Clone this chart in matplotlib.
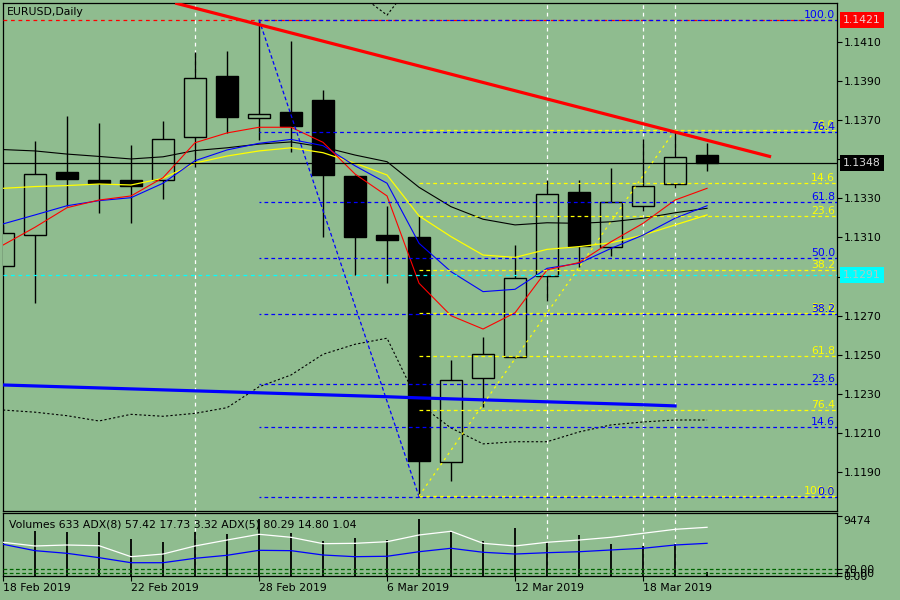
import matplotlib
matplotlib.use('Agg')
import matplotlib.pyplot as plt
from matplotlib.patches import Rectangle
import matplotlib.transforms as mtransforms

BG = '#8FBC8F'
FS = 7.8
plt.rcParams['font.family'] = ['DejaVu Sans']

dates = ['18 Feb 2019', '19 Feb 2019', '20 Feb 2019', '21 Feb 2019', '22 Feb 2019',
         '25 Feb 2019', '26 Feb 2019', '27 Feb 2019', '28 Feb 2019', '1 Mar 2019',
         '4 Mar 2019', '5 Mar 2019', '6 Mar 2019', '7 Mar 2019', '8 Mar 2019',
         '11 Mar 2019', '12 Mar 2019', '13 Mar 2019', '14 Mar 2019', '15 Mar 2019',
         '18 Mar 2019', '19 Mar 2019', '20 Mar 2019']
label_idx = [0, 4, 8, 12, 16, 20]
vline_idx = [6, 17, 20, 21]

opens = [1.12954, 1.13111, 1.13434, 1.13392, 1.13393, 1.13392, 1.13613, 1.13925, 1.13709, 1.13741,
         1.13802, 1.13414, 1.13112, 1.13104, 1.11953, 1.12382, 1.12491, 1.12903, 1.13332, 1.13051,
         1.13261, 1.13373, 1.13521]
highs = [1.13164, 1.13593, 1.13720, 1.13685, 1.13572, 1.13695, 1.14047, 1.14052, 1.14213, 1.14104,
         1.13853, 1.13419, 1.13261, 1.13210, 1.12474, 1.12591, 1.13061, 1.13393, 1.13393, 1.13455,
         1.13603, 1.13639, 1.13584]
lows = [1.12908, 1.12767, 1.13262, 1.13223, 1.13172, 1.13298, 1.13461, 1.13632, 1.13598, 1.13538,
        1.13102, 1.12908, 1.12867, 1.11775, 1.11857, 1.12234, 1.12485, 1.12777, 1.12950, 1.13007,
        1.13235, 1.13353, 1.13439]
closes = [1.13121, 1.13424, 1.13400, 1.13378, 1.13361, 1.13603, 1.13915, 1.13717, 1.13729, 1.13671,
          1.13421, 1.13102, 1.13087, 1.11959, 1.12372, 1.12504, 1.12893, 1.13322, 1.13058, 1.13281,
          1.13363, 1.13511, 1.13479]
volumes = [7000, 7070, 6865, 6960, 5813, 5341, 6960, 6598, 8908, 6755, 5546, 6017, 5609, 8955,
           7117, 5499, 7541, 5294, 6441, 5074, 4760, 4980, 633]

ma_red = [1.13061, 1.13152, 1.13252, 1.13291, 1.13312, 1.13405, 1.13584, 1.13634, 1.13663, 1.13663,
          1.13586, 1.13424, 1.13312, 1.12866, 1.12700, 1.12632, 1.12715, 1.12934, 1.12972, 1.13078,
          1.13172, 1.13291, 1.13351]
ma_blue = [1.13169, 1.13215, 1.13262, 1.13288, 1.13303, 1.13377, 1.13492, 1.13547, 1.13581, 1.13601,
           1.13569, 1.13466, 1.13377, 1.13070, 1.12925, 1.12823, 1.12835, 1.12942, 1.12968, 1.13044,
           1.13112, 1.13198, 1.13262]
ma_yellow = [1.13351, 1.13360, 1.13365, 1.13373, 1.13368, 1.13402, 1.13480, 1.13516, 1.13542, 1.13558,
             1.13533, 1.13479, 1.13419, 1.13210, 1.13104, 1.13010, 1.12998, 1.13039, 1.13053, 1.13073,
             1.13112, 1.13164, 1.13215]
ma_black = [1.13549, 1.13542, 1.13526, 1.13514, 1.13501, 1.13512, 1.13544, 1.13558, 1.13577, 1.13588,
            1.13562, 1.13521, 1.13487, 1.13356, 1.13257, 1.13193, 1.13164, 1.13175, 1.13172, 1.13180,
            1.13198, 1.13226, 1.13249]
ma_slow = [1.12346, 1.12341, 1.12336, 1.12331, 1.12326, 1.12321, 1.12316, 1.12311, 1.12306, 1.12301,
           1.12296, 1.12291, 1.12286, 1.12280, 1.12275, 1.12270, 1.12265, 1.12260, 1.12255, 1.12250,
           1.12245, 1.12239]
band_lower = [1.12218, 1.12207, 1.12189, 1.12162, 1.12196, 1.12186, 1.12201, 1.12230, 1.12337, 1.12397,
              1.12503, 1.12554, 1.12585, 1.12249, 1.12126, 1.12045, 1.12056, 1.12056, 1.12106, 1.12142,
              1.12157, 1.12167, 1.12167]
band_upper_idx = [11, 12, 13]
band_upper = [1.14359, 1.14236, 1.14446]

adx5 = [58.9, 53.6, 55.0, 54.0, 38.3, 42.1, 53.6, 62.1, 70.3, 66.0, 56.9, 57.4, 59.7, 69.3,
        74.6, 57.4, 53.6, 58.9, 62.1, 66.0, 71.7, 77.4, 80.29]
adx8 = [56.0, 46.9, 43.1, 36.9, 29.7, 29.7, 36.0, 40.3, 47.4, 46.9, 40.7, 38.3, 38.9, 45.4,
        50.3, 44.6, 42.1, 44.0, 45.4, 47.9, 50.3, 55.0, 57.42]
adx_levels = [20, 15]

fib_levels = [0.0, 14.6, 23.6, 38.2, 50.0, 61.8, 76.4, 100.0]
fib1 = dict(i_hi=8, hi=1.14213, i_lo=13, lo=1.11775)
fib2 = dict(i_lo=13, lo=1.11779, i_hi=21, hi=1.13649)
trend_red = dict(x=[5.38, 24.0], y=[1.14298, 1.13512])
high_line = 1.14213
cyan_line = 1.12907
price_ticks = [1.1190, 1.1210, 1.1230, 1.1250, 1.1270, 1.1290, 1.1310, 1.1330, 1.1350, 1.1370, 1.1390, 1.1410]
vol_max_label = 9474

n = len(closes)
xs = list(range(n))

fig = plt.figure(figsize=(9, 6), dpi=100, facecolor=BG)
W, H = 900, 600
ax = fig.add_axes([3 / W, (H - 511) / H, 834 / W, 508 / H], facecolor=BG)
axp = fig.add_axes([3 / W, (H - 576) / H, 834 / W, 62.7 / H], facecolor=BG)
XL = (0.0, 26.06)
ax.set_xlim(*XL)
ax.set_ylim(1.11702, 1.14298)
axp.set_xlim(*XL)
for a in (ax, axp):
    for s in a.spines.values():
        s.set_color('black')
        s.set_linewidth(0.9)

# candles
bw = 22 / 32
for i in xs:
    o, h, l, c = opens[i], highs[i], lows[i], closes[i]
    ax.vlines(i, l, h, color='black', lw=1.0, zorder=3)
    bear = c < o
    ax.add_patch(Rectangle((i - bw / 2, min(o, c)), bw, abs(c - o),
                           facecolor='black' if bear else BG, edgecolor='black',
                           lw=1.0, zorder=4))

# vertical user lines
for a in (ax, axp):
    for i in vline_idx:
        a.axvline(i, color='white', ls=(0, (3, 3)), lw=0.9, zorder=2)

# bands
ax.plot(xs, band_lower, color='black', ls=(0, (2, 2)), lw=0.8, zorder=5)
ax.plot(band_upper_idx, band_upper, color='black', ls=(0, (2, 2)), lw=0.8, zorder=5)

# slow MA
ax.plot(xs[:len(ma_slow)], ma_slow, color='#0000FF', lw=2.3, zorder=5)

# MAs
ax.plot(xs, ma_black, color='black', lw=0.8, zorder=6)
ax.plot(xs, ma_yellow, color='#FFFF00', lw=0.9, zorder=6)
ax.plot(xs, ma_blue, color='#0000FF', lw=0.8, zorder=6)
ax.plot(xs, ma_red, color='#FF0000', lw=0.8, zorder=6)

# horizontal lines
ax.axhline(high_line, color='#FF0000', ls=(0, (3, 3)), lw=0.9, zorder=6)
ax.axhline(cyan_line, color='#00FFFF', ls=(0, (3, 3)), lw=0.9, zorder=6)
ax.axhline(closes[-1], color='black', lw=0.9, zorder=6)

# fib 1 (blue)
rng1 = fib1['hi'] - fib1['lo']
ax.plot([fib1['i_hi'], fib1['i_lo']], [fib1['hi'], fib1['lo']], color='#0000FF',
        ls=(0, (3, 2)), lw=0.9, zorder=7)
# fib 2 (yellow)
rng2 = fib2['hi'] - fib2['lo']
ax.plot([fib2['i_lo'], fib2['i_hi']], [fib2['lo'], fib2['hi']], color='#FFFF00',
        ls=(0, (2, 3)), lw=0.9, zorder=7)
for p in fib_levels:
    y2 = fib2['hi'] - p / 100 * rng2
    ax.plot([fib2['i_lo'], XL[1]], [y2, y2], color='#FFFF00', ls=(0, (3, 2.5)), lw=0.9, zorder=7)
    ax.text(26.0, y2, f'{p:.1f}', color='#FFFF00', ha='right', va='bottom', fontsize=FS, zorder=8)
for p in fib_levels:
    y1 = fib1['lo'] + p / 100 * rng1
    ax.plot([fib1['i_hi'], XL[1]], [y1, y1], color='#0000FF', ls=(1.5, (3, 2.5)), lw=0.9, zorder=7)
    ax.text(26.0, y1, f'{p:.1f}', color='#0000FF', ha='right', va='bottom', fontsize=FS, zorder=8)

# red trend line
ax.plot(trend_red['x'], trend_red['y'], color='#FF0000', lw=2.3, zorder=8, solid_capstyle='butt')

# axes ticks main
ax.set_xticks([])
ax.yaxis.tick_right()
ax.set_yticks(price_ticks)
ax.set_yticklabels([f'{t:.4f}' for t in price_ticks])
ax.tick_params(axis='y', direction='out', length=3.6, width=0.8, pad=1, labelsize=FS, colors='black')

# price boxes
trans = mtransforms.blended_transform_factory(ax.transAxes, ax.transData)
xbox = (843 - 3) / 834
for val, fc, tc in [(high_line, '#FF0000', '#F0D0D0'), (closes[-1], 'black', '#D8D8D8'),
                    (cyan_line, '#00FFFF', '#B0C8C0')]:
    ax.text(xbox, val, f'{val:.4f}', transform=trans, ha='left', va='center', fontsize=FS,
            color=tc, clip_on=False, zorder=20,
            bbox=dict(boxstyle='square,pad=0.28', fc=fc, ec='none'))

fig.text(7 / W, 1 - 12 / H, 'EURUSD,Daily', ha='left', va='center', fontsize=FS, color='black')

# indicator panel: ADX on twin axis, volumes on base axis
axa = axp.twinx()
axp.set_ylim(0, 9851)
axp.vlines(xs, 0, volumes, color='black', lw=1.3, zorder=3)
axp.yaxis.tick_right()
axp.yaxis.set_label_position('right')
axp.set_yticks([vol_max_label, 0])
axp.set_yticklabels([str(vol_max_label), '0.00'])
axp.tick_params(axis='y', which='both', left=False, labelleft=False, right=True, labelright=True,
                direction='out', length=3.6, width=0.8, pad=1, labelsize=FS, colors='black')
axp.get_yticklabels()[0].set_va('top')
axp.set_xticks(label_idx)
axp.set_xticklabels([dates[i] for i in label_idx], ha='left')
axp.tick_params(axis='x', direction='out', length=3.6, width=0.8, pad=1.5, labelsize=FS, colors='black')

axa.set_ylim(10.7, 100.3)
axa.set_xlim(*XL)
for s in axa.spines.values():
    s.set_visible(False)
for lv in adx_levels:
    axa.axhline(lv, color='#006400', ls=(0, (3, 2)), lw=0.9, zorder=2)
axa.plot(xs, adx5, color='white', lw=0.9, zorder=4)
axa.plot(xs, adx8, color='#0000FF', lw=0.9, zorder=4)
axa.set_yticks(adx_levels)
axa.set_yticklabels([f'{v:.2f}' for v in adx_levels])
axa.tick_params(axis='y', direction='out', length=3.6, width=0.8, pad=1, labelsize=FS, colors='black')

axp.text(6 / 834, 1 - 11 / 62.7,
         f'Volumes {volumes[-1]} ADX(8) 57.42 17.73 3.32 ADX(5) 80.29 14.80 1.04',
         transform=axp.transAxes, ha='left', va='center', fontsize=FS, color='black', zorder=10)

fig.savefig('out.png', dpi=100, facecolor=BG)
